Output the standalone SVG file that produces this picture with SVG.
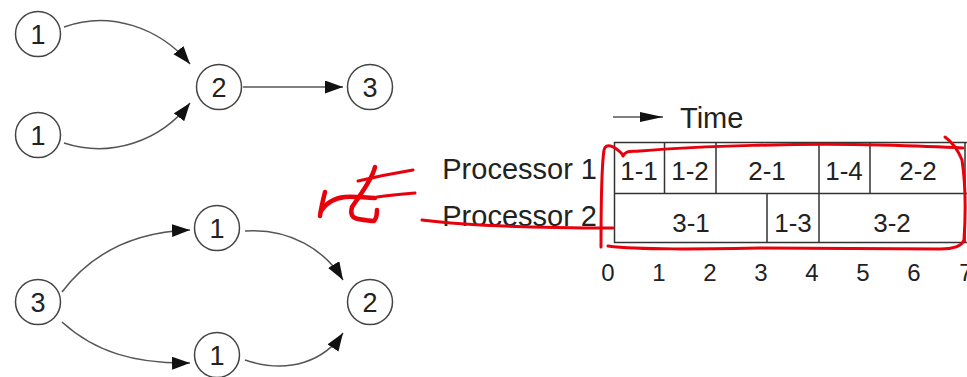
<svg xmlns="http://www.w3.org/2000/svg" width="967" height="377" viewBox="0 0 967 377">
<style>
.node circle{fill:#fff;stroke:#444;stroke-width:1.5}
.node text{font-family:"Liberation Sans",Arial,sans-serif;font-size:27px;fill:#222;text-anchor:middle}
.edge{fill:none;stroke:#555;stroke-width:1.5}
.lbl{font-family:"Liberation Sans",Arial,sans-serif;fill:#222}
.cell{font-size:26px;text-anchor:middle}
.tick{font-size:24px;text-anchor:middle}
.grid{fill:none;stroke:#333;stroke-width:1.5}
.red{fill:none;stroke:#e8000b;stroke-width:3;stroke-linecap:round;stroke-linejoin:round}
.redt{fill:none;stroke:#e8000b;stroke-width:4.5;stroke-linecap:round;stroke-linejoin:round}
</style>
<defs>
<marker id="ah" markerUnits="userSpaceOnUse" markerWidth="19" markerHeight="14" refX="18" refY="6.5" orient="auto">
<path d="M0,0 L18,6.5 L0,13 z" fill="#111"/>
</marker>
<marker id="ahT" markerUnits="userSpaceOnUse" markerWidth="24" markerHeight="11" refX="23" refY="5" orient="auto">
<path d="M0,0 L23,5 L0,10 z" fill="#111"/>
</marker>
</defs>
<rect width="967" height="377" fill="#fff"/>

<g id="connectors">
<path class="edge" d="M64,27 C110,10 160,28 190,64" marker-end="url(#ah)"/>
<path class="edge" d="M64,143 C110,158 160,142 190,103" marker-end="url(#ah)"/>
<path class="edge" d="M243,87 L343,87" marker-end="url(#ah)"/>
<path class="edge" d="M62,292 C90,255 130,232 190,230" marker-end="url(#ah)"/>
<path class="edge" d="M62,322 C95,352 135,364 190,363" marker-end="url(#ah)"/>
<path class="edge" d="M245,231 C290,228 325,250 343,280" marker-end="url(#ah)"/>
<path class="edge" d="M245,360 C290,375 325,360 343,333" marker-end="url(#ah)"/>
<path class="edge" d="M613,117 L663,117" stroke="#222" marker-end="url(#ahT)"/>
</g>

<g id="n_a1" class="node"><circle cx="38" cy="34" r="22.5"/><text x="38" y="44">1</text></g>
<g id="n_a1b" class="node"><circle cx="38" cy="135" r="22.5"/><text x="38" y="145">1</text></g>
<g id="n_a2" class="node"><circle cx="219" cy="87" r="22.5"/><text x="219" y="97">2</text></g>
<g id="n_a3" class="node"><circle cx="370" cy="87" r="22.5"/><text x="370" y="97">3</text></g>
<g id="n_b1" class="node"><circle cx="217" cy="228" r="22.5"/><text x="217" y="238">1</text></g>
<g id="n_b3" class="node"><circle cx="38" cy="302" r="22.5"/><text x="38" y="312">3</text></g>
<g id="n_b1b" class="node"><circle cx="217" cy="355" r="22.5"/><text x="217" y="365">1</text></g>
<g id="n_b2" class="node"><circle cx="370" cy="302" r="22.5"/><text x="370" y="312">2</text></g>

<g id="time_label"><text class="lbl" x="680" y="128" font-size="29">Time</text></g>

<g id="processor_labels">
<text class="lbl" x="597" y="179" font-size="29" text-anchor="end">Processor 1</text>
<text class="lbl" x="597" y="226" font-size="29" text-anchor="end">Processor 2</text>
</g>

<g id="schedule">
<path class="grid" d="M614,142.5 H967 M614,193.5 H967 M614,242.5 H967 M614.5,142 V243 M965,142 V243"/>
<path class="grid" d="M664.5,142.5 V193.5 M716,142.5 V193.5 M819,142.5 V243 M870,142.5 V193.5 M767,193.5 V243"/>
<g class="lbl cell">
<text x="639" y="180">1-1</text>
<text x="690" y="180">1-2</text>
<text x="767" y="180">2-1</text>
<text x="844" y="180">1-4</text>
<text x="918" y="180">2-2</text>
<text x="691" y="232">3-1</text>
<text x="793" y="232">1-3</text>
<text x="892" y="232">3-2</text>
</g>
</g>

<g id="axis" class="lbl tick">
<text x="608" y="281">0</text>
<text x="659" y="281">1</text>
<text x="710" y="281">2</text>
<text x="761" y="281">3</text>
<text x="812" y="281">4</text>
<text x="863" y="281">5</text>
<text x="914" y="281">6</text>
<text x="966" y="281">7</text>
</g>

<g id="annotations">
<path class="red" d="M623,156 C626,150 630,152 640,151 C700,146 800,143 880,145 C920,146 945,147 963,148"/>
<path class="red" d="M623,155 C615,146 606,142 604,150 C601,170 601,210 601,247"/>
<path class="red" d="M608,246 C640,250 700,249 760,248 C840,248 900,249 940,249 C955,249 962,246 964,240 C966,210 965,180 962,160 C958,150 952,142 945,137"/>
<path class="red" d="M422,220 C470,226 540,228 613,228"/>
<path class="redt" d="M325,192 C323,200 321,208 320,216"/>
<path class="redt" d="M321,211 C326,203 335,198 345,197 C355,196 365,198 375,198"/>
<path class="redt" d="M375,167 C372,180 360,195 352,207 C350,214 352,218 358,219 C364,220 370,221 374,221 C377,218 377,214 377,210"/>
<path class="red" d="M358,181 C375,177 395,173 413,170"/>
<path class="red" d="M377,197 C390,195 402,194 415,193"/>
</g>
</svg>
